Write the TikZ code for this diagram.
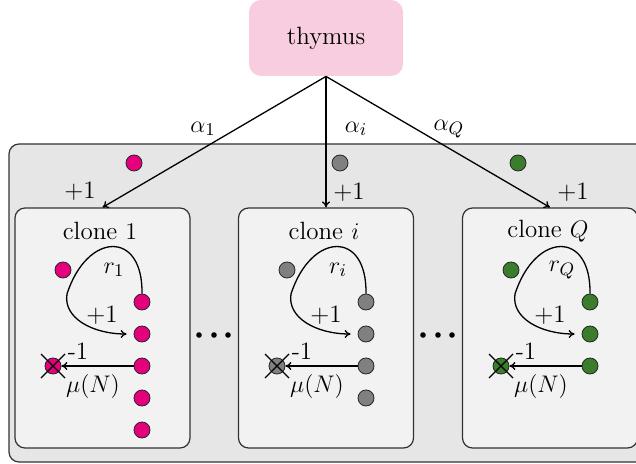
\documentclass[tikz,border=0pt]{standalone}
\usetikzlibrary{arrows.meta}
\definecolor{thypink}{RGB}{248,205,224}
\definecolor{outerfill}{RGB}{230,230,230}
\definecolor{clonefill}{RGB}{242,242,242}
\definecolor{cmag}{RGB}{230,0,126}
\definecolor{cgray}{RGB}{128,128,128}
\definecolor{cgreen}{RGB}{58,125,44}
\begin{document}
\begin{tikzpicture}[x=0.5pt,y=-0.5pt,
  font=\fontsize{12.5}{15}\selectfont,
  cell/.style={circle, draw=black!85, line width=0.4pt, minimum size=8pt, inner sep=0pt},
  arr/.style={-{To[length=3pt,width=4pt]}, line width=0.65pt},
  clonebox/.style={draw=black!80, fill=clonefill, rounded corners=5pt, line width=0.6pt,
     minimum width=87.5pt, minimum height=120pt, inner sep=0pt},
  lbl/.style={inner sep=1pt}]
\useasboundingbox (0,0) rectangle (636,464);
\clip (0,0) rectangle (636,464);
% outer population box
\draw[draw=black!80, fill=outerfill, rounded corners=5pt, line width=0.6pt] (9,144) rectangle (680,462);
% thymus
\node[fill=thypink, rounded corners=6pt, minimum width=77pt, minimum height=38pt, inner sep=0pt] (thy) at (326,38) {thymus};
% clone boxes
\node[clonebox] (clone1) at (102.5,328) {};
\node[clonebox] (clonei) at (326,328) {};
\node[clonebox] (cloneQ) at (550,328) {};
% thymus arrows
\draw[arr] (thy.south) -- (clone1.north);
\draw[arr] (thy.south) -- (clonei.north);
\draw[arr] (thy.south) -- (cloneQ.north);
\node[lbl] (a1) at (203,129) {$\alpha_1$};
\node[lbl] (ai) at (356,129) {$\alpha_i$};
\node[lbl] (aQ) at (449,129) {$\alpha_Q$};
% top dots and +1
\node[cell, fill=cmag] (top1) at (134,163) {};
\node[cell, fill=cgray] (topi) at (340,163) {};
\node[cell, fill=cgreen] (topQ) at (518,163) {};
\node[lbl] (p1) at (80,191) {+1};
\node[lbl] (pi) at (349,192) {+1};
\node[lbl] (pQ) at (573,192) {+1};
% ellipses
\foreach \ex in {0,224}{
  \fill (199+\ex,335) circle (1.4pt);
  \fill (214+\ex,335) circle (1.4pt);
  \fill (228+\ex,335) circle (1.4pt);
}
% clone contents
\foreach \n/\dx/\col/\cnt in {1/0/cmag/5, i/224/cgray/4, Q/448/cgreen/3}{
  \node[lbl] (t\n) at (100+\dx,231) {clone $\n$};
  \node[cell, fill=\col] (l\n) at (63+\dx,270) {};
  \foreach \k in {1,...,\cnt}{
    \node[cell, fill=\col] (c\n\k) at (142+\dx,270+32*\k) {};
  }
  \node[cell, fill=\col] (x\n) at (53+\dx,366) {};
  \draw[line width=0.6pt] ([shift={(-12,-12)}]x\n.center) -- ([shift={(12,12)}]x\n.center);
  \draw[line width=0.6pt] ([shift={(-12,12)}]x\n.center) -- ([shift={(12,-12)}]x\n.center);
  \draw[arr] (c\n1.north) .. controls +(1,-64) and +(20,-62) .. (67+\dx,294)
     .. controls +(-4,24) and +(-34,0) .. ([xshift=-3.5pt]c\n2.west);
  \draw[arr] (c\n3) -- (x\n);
  \node[lbl] (r\n) at (114+\dx,270) {$r_\n$};
  \node[lbl] (g\n) at (102+\dx,315) {+1};
  \node[lbl] (m\n) at (78+\dx,351) {-1};
  \node[lbl] (mu\n) at (93+\dx,386) {$\mu(N)$};
}
\end{tikzpicture}
\end{document}
